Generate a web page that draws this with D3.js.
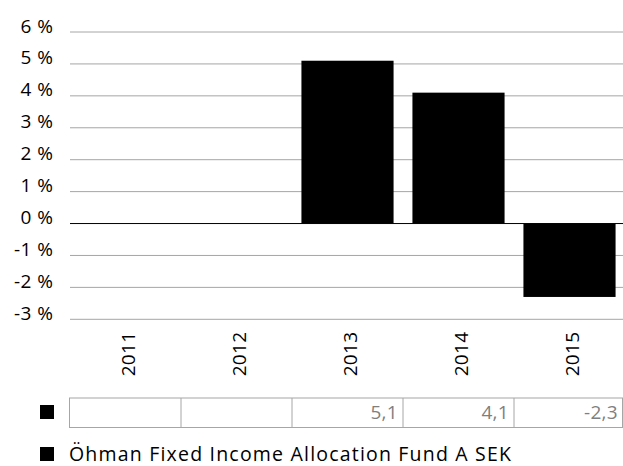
<!DOCTYPE html>
<html><head><meta charset="utf-8">
<script src="https://cdn.jsdelivr.net/npm/d3@7"></script>
<style>body{margin:0;background:#fff}svg{display:block}</style>
</head><body>
<script>
const categories = ["2011","2012","2013","2014","2015"];
const values = [null, null, 5.1, 4.1, -2.3];
const tableLabels = ["", "", "5,1", "4,1", "-2,3"];
const yTicks = [-3,-2,-1,0,1,2,3,4,5,6];
const seriesName = "Öhman Fixed Income Allocation Fund A SEK";

const W = 623, H = 466;
const FONT = "'Open Sans', sans-serif";
const svg = d3.select("body").append("svg").attr("width", W).attr("height", H)
  .style("font-family", FONT);

const x = d3.scaleBand().domain(categories).range([70, 625]).paddingInner(0.17).paddingOuter(0.085);
const step = x.step();
const x0 = 70;
const y = d3.scaleLinear().domain([-3, 6]).range([319.3, 32]);

// gridlines
svg.append("g").selectAll("line").data(yTicks.filter(d => d !== 0)).join("line")
  .attr("x1", x0).attr("x2", W).attr("y1", d => y(d)).attr("y2", d => y(d))
  .attr("stroke", "#a6a6a6").attr("stroke-width", 1);

// y labels
svg.append("g").selectAll("text").data(yTicks).join("text")
  .attr("x", 53.5).attr("y", d => y(d) + 0.5).attr("text-anchor", "end")
  .attr("font-size", 19).attr("letter-spacing", 0.5).attr("fill", "#000")
  .text(d => d + " %");

// bars
svg.append("g").selectAll("rect").data(categories.map((c, i) => ({c, v: values[i]})).filter(d => d.v !== null)).join("rect")
  .attr("x", d => x(d.c)).attr("width", x.bandwidth())
  .attr("y", d => y(Math.max(0, d.v))).attr("height", d => Math.abs(y(d.v) - y(0)))
  .attr("fill", "#000");

// zero line
svg.append("line").attr("x1", x0).attr("x2", W).attr("y1", y(0)).attr("y2", y(0))
  .attr("stroke", "#000").attr("stroke-width", 1);

// category labels rotated
svg.append("g").selectAll("text").data(categories).join("text")
  .attr("transform", d => `translate(${x(d) + x.bandwidth()/2 + 3},354) rotate(-90)`)
  .attr("text-anchor", "middle").attr("dy", "0.35em")
  .attr("font-size", 19).attr("letter-spacing", 0.3).attr("fill", "#000")
  .text(d => d);

// data table
const tTop = 398, tBot = 427.5;
const tg = svg.append("g");
tg.append("rect").attr("x", x0 - 0.5).attr("y", tTop).attr("width", W - x0 ).attr("height", tBot - tTop)
  .attr("fill", "none").attr("stroke", "#a6a6a6");
tg.selectAll("line.div").data(categories.slice(1)).join("line")
  .attr("x1", (d, i) => x0 + step * (i + 1)).attr("x2", (d, i) => x0 + step * (i + 1))
  .attr("y1", tTop).attr("y2", tBot).attr("stroke", "#a6a6a6");
tg.selectAll("text").data(tableLabels).join("text")
  .attr("x", (d, i) => Math.min(x0 + step * (i + 1), W) - 5)
  .attr("y", (tTop + tBot) / 2).attr("dy", "0.35em").attr("text-anchor", "end")
  .attr("font-size", 19).attr("letter-spacing", 0.3).attr("fill", "#7f7f7f")
  .text(d => d);
tg.append("rect").attr("x", 40).attr("y", 405).attr("width", 14).attr("height", 14).attr("fill", "#000");

// legend
svg.append("rect").attr("x", 40).attr("y", 447).attr("width", 14).attr("height", 14).attr("fill", "#000");
svg.append("text").attr("x", 69).attr("y", 461).attr("font-size", 19.5)
  .attr("textLength", 442).attr("lengthAdjust", "spacing").attr("fill", "#000").text(seriesName);
</script>
</body></html>
